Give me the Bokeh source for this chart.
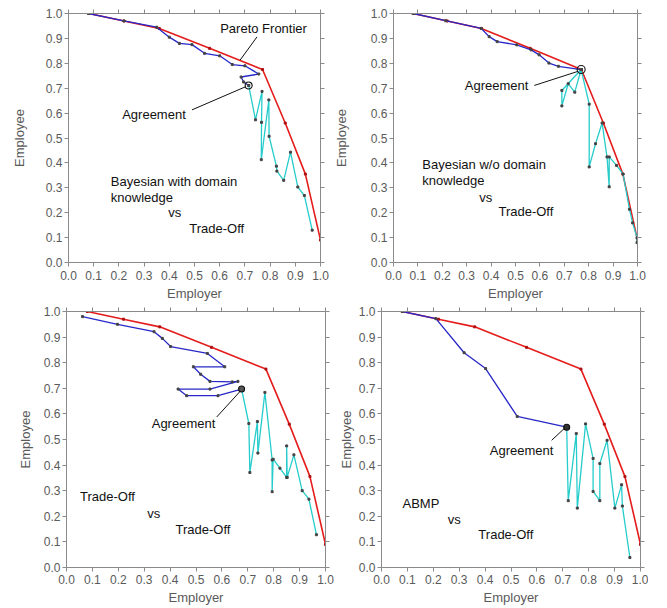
from bokeh.plotting import figure
from bokeh.models import LinearAxis, FixedTicker, Range1d
from bokeh.layouts import row, column
from bokeh.core.properties import value
from bokeh.embed import file_html
from bokeh.resources import INLINE

# ---------------- data ----------------
tick_values = [0.0, 0.1, 0.2, 0.3, 0.4, 0.5, 0.6, 0.7, 0.8, 0.9, 1.0]
tick_labels = ["0.0", "0.1", "0.2", "0.3", "0.4", "0.5", "0.6", "0.7", "0.8", "0.9", "1.0"]

pareto_x = [0.08, 0.22, 0.36, 0.56, 0.77, 0.86, 0.94, 1.0]
pareto_y = [1.0, 0.97, 0.94, 0.86, 0.775, 0.56, 0.355, 0.09]

# Panel 1: Bayesian with domain knowledge vs Trade-Off
b1_x = [0.08, 0.22, 0.35, 0.40, 0.44, 0.49, 0.54, 0.60, 0.65, 0.70, 0.755, 0.685, 0.695, 0.715]
b1_y = [1.0, 0.97, 0.945, 0.905, 0.88, 0.875, 0.84, 0.83, 0.795, 0.79, 0.757, 0.745, 0.725, 0.711]
c1_x = [0.715, 0.742, 0.768, 0.766, 0.765, 0.795, 0.796, 0.825, 0.827, 0.854, 0.881, 0.91, 0.936, 0.967]
c1_y = [0.711, 0.573, 0.687, 0.563, 0.413, 0.653, 0.507, 0.387, 0.367, 0.33, 0.443, 0.303, 0.269, 0.13]
agree1 = (0.715, 0.711)

# Panel 2: Bayesian w/o domain knowledge vs Trade-Off
b2_x = [0.082, 0.214, 0.36, 0.392, 0.425, 0.505, 0.564, 0.597, 0.637, 0.676, 0.769]
b2_y = [1.0, 0.971, 0.94, 0.907, 0.887, 0.874, 0.854, 0.834, 0.801, 0.788, 0.775]
c2_x = [0.769, 0.69, 0.69, 0.716, 0.743, 0.769, 0.802, 0.802, 0.828, 0.855, 0.875, 0.884, 0.884,
        0.914, 0.941, 0.967, 0.98, 0.998, 0.998]
c2_y = [0.775, 0.691, 0.629, 0.718, 0.684, 0.775, 0.636, 0.384, 0.477, 0.56, 0.424, 0.304, 0.424,
        0.39, 0.355, 0.214, 0.159, 0.099, 0.08]
agree2 = (0.769, 0.775)

# Panel 3: Trade-Off vs Trade-Off
b3_x = [0.062, 0.197, 0.338, 0.370, 0.402, 0.544, 0.611, 0.49, 0.518, 0.554, 0.64, 0.662, 0.554,
        0.431, 0.464, 0.585, 0.676]
b3_y = [0.98, 0.95, 0.921, 0.895, 0.863, 0.836, 0.784, 0.784, 0.755, 0.727, 0.725, 0.727, 0.697,
        0.697, 0.671, 0.671, 0.697]
c3_x = [0.676, 0.704, 0.708, 0.737, 0.739, 0.766, 0.794, 0.794, 0.798, 0.824, 0.85, 0.85, 0.852,
        0.878, 0.91, 0.936, 0.965]
c3_y = [0.697, 0.5625, 0.371, 0.57, 0.447, 0.684, 0.42, 0.296, 0.423, 0.388, 0.352, 0.475, 0.352,
        0.44, 0.3, 0.267, 0.128]
agree3 = (0.676, 0.697)

# Panel 4: ABMP vs Trade-Off
b4_x = [0.081, 0.21, 0.319, 0.402, 0.524, 0.715]
b4_y = [1.0, 0.972, 0.839, 0.777, 0.59, 0.548]
c4_x = [0.715, 0.721, 0.752, 0.756, 0.788, 0.817, 0.817, 0.843, 0.843, 0.871, 0.901, 0.927, 0.93, 0.959]
c4_y = [0.548, 0.261, 0.523, 0.232, 0.561, 0.426, 0.297, 0.261, 0.406, 0.497, 0.232, 0.323, 0.24, 0.039]
agree4 = (0.715, 0.548)

# ---------------- style ----------------
RED = "#e41c1c"
BLUE = "#2828c8"
CYAN = "#26cccc"
AXIS = "#8a8a8a"
TICKTXT = "#5a5a5a"
FONT = "Liberation Sans"


def make_panel(width, height, mbl, mbr, mbt, mbb, ylab_standoff, xlab_standoff,
               bx, by, cx, cy, agree, agree_fill, agree_size,
               labels, leader):
    p = figure(width=width, height=height, x_range=Range1d(0, 1), y_range=Range1d(0, 1),
               output_backend="svg", toolbar_location=None,
               min_border_left=mbl, min_border_right=mbr,
               min_border_top=mbt, min_border_bottom=mbb,
               background_fill_color="white", border_fill_color="white")
    p.outline_line_color = None
    p.xgrid.visible = False
    p.ygrid.visible = False

    overrides = {v: t for v, t in zip(tick_values, tick_labels)}
    for ax in (p.xaxis[0], p.yaxis[0]):
        ax.ticker = FixedTicker(ticks=tick_values)
        ax.major_label_overrides = overrides
        ax.axis_line_color = AXIS
        ax.major_tick_line_color = AXIS
        ax.minor_tick_line_color = None
        ax.major_tick_in = 0
        ax.major_tick_out = 4
        ax.major_label_text_font = FONT
        ax.major_label_text_font_size = "12px"
        ax.major_label_text_color = TICKTXT
        ax.axis_label_text_font = FONT
        ax.axis_label_text_font_size = "13px"
        ax.axis_label_text_font_style = "normal"
        ax.axis_label_text_color = TICKTXT
    p.xaxis.major_label_standoff = xlab_standoff
    p.yaxis.major_label_standoff = 2
    p.xaxis.axis_label = "Employer"
    p.yaxis.axis_label = "Employee"
    p.xaxis.axis_label_standoff = 3
    p.yaxis.axis_label_standoff = ylab_standoff

    for side in ("right", "above"):
        ax = LinearAxis(ticker=FixedTicker(ticks=tick_values),
                        axis_line_color=AXIS, major_tick_line_color=AXIS,
                        minor_tick_line_color=None, major_tick_in=0, major_tick_out=4,
                        major_label_text_font_size="1px", major_label_text_color=None,
                        major_label_standoff=0)
        p.add_layout(ax, side)

    # Pareto frontier
    p.line(pareto_x, pareto_y, line_color=RED, line_width=1.6)
    p.scatter(pareto_x, pareto_y, marker="square", size=2, color="#b01010")
    # offers of the two agents
    p.line(bx, by, line_color=BLUE, line_width=1.3)
    p.line(cx, cy, line_color=CYAN, line_width=1.3)
    p.scatter(bx, by, marker="square", size=2, color="#444444")
    p.scatter(cx, cy, marker="square", size=2, color="#444444")
    # agreement
    p.scatter([agree[0]], [agree[1]], marker="circle", size=agree_size,
              line_color="#111111", line_width=1.1, fill_color=agree_fill)

    # leader lines
    for (x0, y0, x1, y1) in leader:
        p.segment(x0=[x0], y0=[y0], x1=[x1], y1=[y1], line_color="#111111", line_width=1.0)

    lx = [l[0] for l in labels]
    ly = [l[1] for l in labels]
    lt = [l[2] for l in labels]
    p.text(x=lx, y=ly, text=lt, text_font=value(FONT), text_font_size="13px",
           text_color="#111111", text_align="left", text_baseline="middle")
    return p


p1 = make_panel(330, 303, 68, 10, 13, 40, 16, 4, b1_x, b1_y, c1_x, c1_y, agree1, None, 7,
                [(0.602, 0.941, "Pareto Frontier"),
                 (0.213, 0.593, "Agreement"),
                 (0.168, 0.326, "Bayesian with domain"),
                 (0.168, 0.262, "knowledge"),
                 (0.396, 0.201, "vs"),
                 (0.479, 0.137, "Trade-Off")],
                [(0.748, 0.906, 0.681, 0.813), (0.49, 0.613, 0.703, 0.706)])

p2 = make_panel(317, 303, 54, 10, 12, 40, 19, 4, b2_x, b2_y, c2_x, c2_y, agree2, None, 8,
                [(0.292, 0.712, "Agreement"),
                 (0.118, 0.395, "Bayesian w/o domain"),
                 (0.118, 0.331, "knowledge"),
                 (0.351, 0.263, "vs"),
                 (0.43, 0.204, "Trade-Off")],
                [(0.577, 0.711, 0.757, 0.768)])

p3 = make_panel(335, 304, 66, 10, 8, 38, 8, 3, b3_x, b3_y, c3_x, c3_y, agree3, "#555555", 6,
                [(0.329, 0.564, "Agreement"),
                 (0.052, 0.277, "Trade-Off"),
                 (0.312, 0.212, "vs"),
                 (0.421, 0.15, "Trade-Off")],
                [(0.58, 0.588, 0.672, 0.690)])

p4 = make_panel(313, 304, 46, 8, 6, 38, 2, 3, b4_x, b4_y, c4_x, c4_y, agree4, "#333333", 6,
                [(0.418, 0.458, "Agreement"),
                 (0.081, 0.249, "ABMP"),
                 (0.256, 0.187, "vs"),
                 (0.374, 0.129, "Trade-Off")],
                [(0.657, 0.497, 0.708, 0.545)])

layout = column(row(p1, p2), row(p3, p4))

open("out.html", "w").write(file_html(layout, INLINE))
